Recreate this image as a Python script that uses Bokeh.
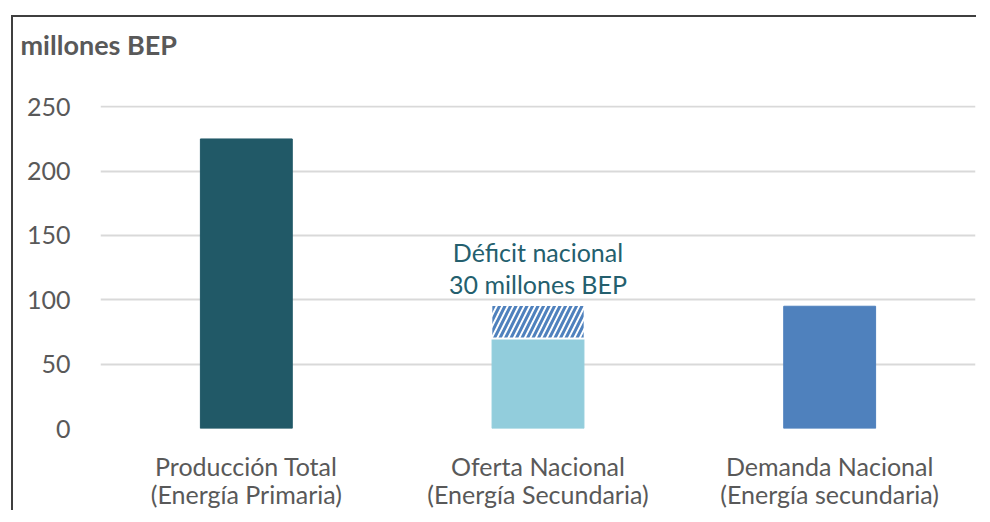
from bokeh.plotting import figure
from bokeh.models import Range1d, FactorRange, FixedTicker, Title
from bokeh.core.properties import value
from bokeh.embed import file_html
from bokeh.resources import INLINE

categories = ["Producción Total\n(Energía Primaria)",
              "Oferta Nacional\n(Energía Secundaria)",
              "Demanda Nacional\n(Energía secundaria)"]
produccion_total = 225
oferta_nacional = 70
deficit_nacional = 26
demanda_nacional = 95
y_ticks = [0, 50, 100, 150, 200, 250]
annotation_lines = ["Déficit nacional", "30 millones BEP"]
title_text = "millones BEP"

FONT = "Lato"
GRAY = "#595959"

p = figure(x_range=FactorRange(*categories, range_padding=0),
           y_range=Range1d(0, 251),
           width=965, height=495,
           output_backend="svg", toolbar_location=None,
           min_border_left=87, min_border_top=88,
           min_border_bottom=82, min_border_right=3)
p.margin = (15, 0, 0, 11)
p.styles = {"border-top": "2px solid #3f3f3f", "border-left": "2px solid #3f3f3f"}

p.outline_line_color = None
p.background_fill_color = "white"
p.border_fill_color = "white"

# bars
p.vbar(x=[categories[0]], top=[produccion_total], width=0.315, color="#215967")
p.vbar(x=[categories[1]], top=[oferta_nacional], width=0.315, color="#92CDDC")
p.vbar(x=[categories[1]], bottom=[oferta_nacional], top=[oferta_nacional + deficit_nacional],
       width=0.32, fill_color="white", line_color="white", line_width=2,
       hatch_pattern="/", hatch_color="#4F81BD", hatch_scale=11, hatch_weight=3)
p.vbar(x=[categories[2]], top=[demanda_nacional], width=0.315, color="#4F81BD")

# annotation
p.text(x=[categories[1], categories[1]], y=[137, 112], text=annotation_lines,
       text_font=value(FONT), text_font_size="25px", text_color="#245F6E",
       text_align="center", text_baseline="middle")

# title: a blank spacer title next to the frame, the real title above it
p.title.text = ""
p.title.standoff = 0
p.add_layout(Title(text=" ", text_font=FONT, text_font_size="27px", standoff=6), "above")
p.add_layout(Title(text=title_text, text_font=FONT, text_font_size="27px",
                   text_font_style="bold", text_color=GRAY, align="left",
                   offset=-80, standoff=8), "above")

# axes
p.yaxis.ticker = FixedTicker(ticks=y_ticks)
p.yaxis.axis_line_color = None
p.yaxis.major_tick_line_color = None
p.yaxis.minor_tick_line_color = None
p.yaxis.major_label_text_font = FONT
p.yaxis.major_label_text_font_size = "25px"
p.yaxis.major_label_text_color = GRAY
p.yaxis.major_label_standoff = 24

p.xaxis.axis_line_color = None
p.xaxis.major_tick_line_color = None
p.xaxis.major_label_text_font = FONT
p.xaxis.major_label_text_font_size = "25px"
p.xaxis.major_label_text_line_height = 0.95
p.xaxis.major_label_text_color = GRAY
p.xaxis.major_label_standoff = 16

p.xgrid.grid_line_color = None
p.ygrid.grid_line_color = "#D9D9D9"
p.ygrid.grid_line_width = 2

open("out.html", "w").write(file_html(p, INLINE))
